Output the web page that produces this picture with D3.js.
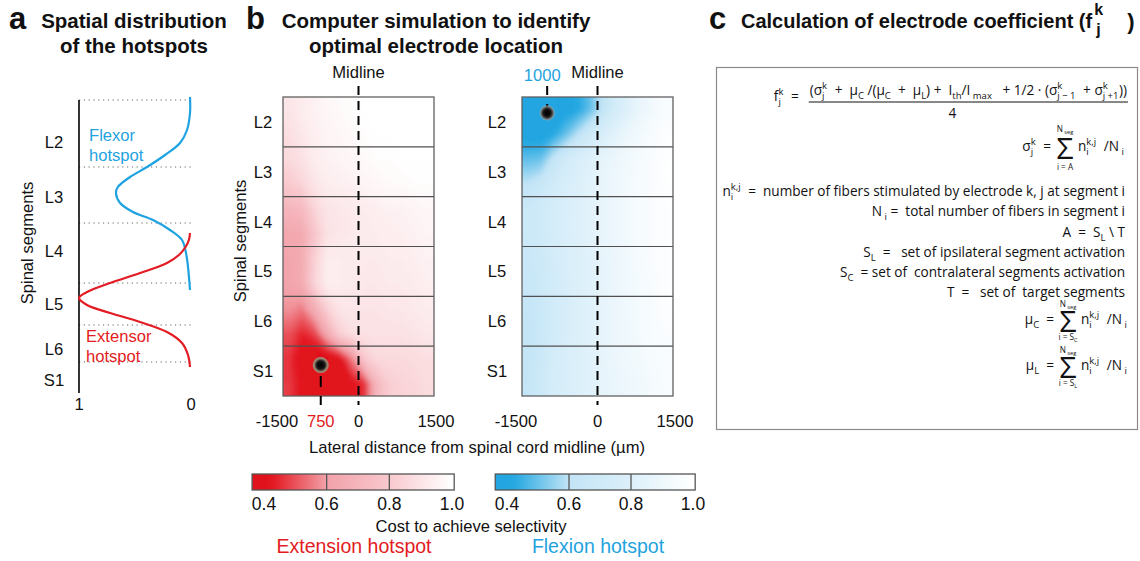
<!DOCTYPE html>
<html><head><meta charset="utf-8">
<script src="https://cdn.jsdelivr.net/npm/d3@7"></script>
<style>body{margin:0;background:#fff}svg{display:block}</style>
</head><body>
<svg id="chart" width="1140" height="561" xmlns="http://www.w3.org/2000/svg"></svg>
<script>
// ================= DATA =================
const segments = ["L2", "L3", "L4", "L5", "L6", "S1"];

// Panel a: positions along the cord (a.u., 0 = top of L2) and normalized density (1 .. 0)
const segBoundsA = [0, 67, 123, 183, 225, 262, 293];
const segLabelPosA = [42, 97, 151, 204, 249, 280];
const densityTicks = [1, 0];
const flexorPos = [-3, 13, 30, 43, 55, 67, 77, 87, 93, 103, 112, 120, 130, 140, 153, 167, 190];
const flexorVal = [0, 0, 0.027, 0.09, 0.225, 0.387, 0.54, 0.65, 0.667, 0.63, 0.514, 0.333, 0.18, 0.072, 0.036, 0.018, 0];
const extensorPos = [133, 140, 147, 155, 163, 173, 183, 192, 198, 205, 213, 222, 232, 243, 255, 267];
const extensorVal = [0, 0.01, 0.04, 0.1, 0.207, 0.45, 0.72, 0.928, 1.0, 0.928, 0.72, 0.45, 0.207, 0.072, 0.018, 0];

// Panel b: cost maps, columns = lateral position (µm, cell centres), rows = half-segment steps (L2 top -> S1 bottom)
const lateralCenters = [-1375, -1125, -875, -625, -375, -125, 125, 375, 625, 875, 1125, 1375];
const rowCenters = [0.25, 0.75, 1.25, 1.75, 2.25, 2.75, 3.25, 3.75, 4.25, 4.75, 5.25, 5.75];
const extensionCost = [
  [0.90, 0.93, 0.95, 0.97, 0.98, 0.99, 1.00, 1.00, 1.00, 1.00, 1.00, 1.00],
  [0.88, 0.91, 0.94, 0.96, 0.97, 0.98, 0.99, 1.00, 1.00, 1.00, 1.00, 1.00],
  [0.86, 0.89, 0.93, 0.95, 0.96, 0.97, 0.98, 0.99, 0.99, 1.00, 1.00, 1.00],
  [0.80, 0.84, 0.90, 0.93, 0.94, 0.95, 0.96, 0.97, 0.98, 0.98, 0.99, 0.99],
  [0.70, 0.72, 0.84, 0.90, 0.91, 0.92, 0.93, 0.94, 0.95, 0.95, 0.96, 0.97],
  [0.63, 0.64, 0.78, 0.89, 0.91, 0.92, 0.92, 0.93, 0.93, 0.94, 0.95, 0.96],
  [0.62, 0.65, 0.83, 0.93, 0.93, 0.92, 0.92, 0.92, 0.93, 0.93, 0.94, 0.95],
  [0.61, 0.65, 0.84, 0.93, 0.93, 0.92, 0.91, 0.91, 0.92, 0.92, 0.93, 0.94],
  [0.58, 0.55, 0.66, 0.83, 0.90, 0.91, 0.90, 0.90, 0.91, 0.91, 0.92, 0.93],
  [0.50, 0.44, 0.48, 0.64, 0.82, 0.88, 0.89, 0.89, 0.89, 0.89, 0.90, 0.91],
  [0.46, 0.38, 0.365, 0.37, 0.40, 0.56, 0.80, 0.86, 0.86, 0.86, 0.87, 0.88],
  [0.47, 0.41, 0.39, 0.385, 0.39, 0.41, 0.46, 0.72, 0.82, 0.84, 0.85, 0.87]
];
const flexionCost = [
  [0.37, 0.36, 0.37, 0.39, 0.42, 0.50, 0.62, 0.74, 0.82, 0.88, 0.93, 0.96],
  [0.38, 0.38, 0.42, 0.50, 0.60, 0.70, 0.78, 0.84, 0.89, 0.93, 0.96, 0.98],
  [0.49, 0.50, 0.62, 0.71, 0.77, 0.82, 0.86, 0.89, 0.92, 0.95, 0.97, 0.99],
  [0.60, 0.64, 0.71, 0.76, 0.80, 0.84, 0.87, 0.90, 0.93, 0.95, 0.97, 0.99],
  [0.67, 0.70, 0.74, 0.78, 0.81, 0.84, 0.87, 0.90, 0.93, 0.95, 0.97, 0.98],
  [0.67, 0.70, 0.74, 0.78, 0.81, 0.84, 0.87, 0.90, 0.93, 0.95, 0.97, 0.98],
  [0.65, 0.68, 0.73, 0.77, 0.80, 0.83, 0.86, 0.89, 0.92, 0.95, 0.97, 0.98],
  [0.64, 0.67, 0.72, 0.76, 0.80, 0.83, 0.86, 0.89, 0.92, 0.94, 0.96, 0.98],
  [0.62, 0.66, 0.72, 0.76, 0.80, 0.83, 0.86, 0.89, 0.92, 0.94, 0.96, 0.98],
  [0.61, 0.66, 0.72, 0.76, 0.80, 0.83, 0.86, 0.89, 0.91, 0.94, 0.96, 0.97],
  [0.61, 0.67, 0.73, 0.77, 0.80, 0.83, 0.86, 0.89, 0.91, 0.93, 0.95, 0.96],
  [0.62, 0.68, 0.74, 0.77, 0.80, 0.83, 0.86, 0.88, 0.90, 0.92, 0.94, 0.96]
];
const lateralTicks = [-1500, 0, 1500];
const extensorElectrode = [-750, 5.38];   // [µm, segment position]
const flexorElectrode = [-1000, 0.32];
const costTicks = [0.4, 0.6, 0.8, 1.0];
const costBarExtent = [0.362, 1.007];
const redStops = [0.4, 0.43, 0.6, 0.8, 1.0];
const redColors = ["#E0121C", "#E31A23", "#F2A1A9", "#F8C9CE", "#FFFFFF"];
const blueStops = [0.4, 0.43, 0.6, 0.8, 1.0];
const blueColors = ["#22A5E0", "#2BAAE2", "#C2E4F6", "#DCF0FA", "#FFFFFF"];

// ================= DRAWING =================
const svg = d3.select("#chart");
const defs = svg.append("defs");
const FONT = "'Liberation Sans', Arial, Helvetica, sans-serif";
const MATH = "'Open Sans', 'Noto Sans', 'DejaVu Sans', sans-serif";
const RED = "#E31B23", BLUE = "#1FA3E0", INK = "#111";
const LAB = 16.6;

function txt(parent, x, y, s, size, opts = {}) {
  return parent.append("text").attr("x", x).attr("y", y).text(s)
    .attr("font-family", opts.family || FONT).attr("font-size", size)
    .attr("font-weight", opts.bold ? "bold" : null)
    .attr("text-anchor", opts.anchor || "start").attr("fill", opts.fill || INK);
}

// ---------- Titles ----------
txt(svg, 9, 29, "a", 31, {bold: true});
txt(svg, 134, 28, "Spatial distribution", 20.5, {bold: true, anchor: "middle"});
txt(svg, 134, 53, "of the hotspots", 20.5, {bold: true, anchor: "middle"});
txt(svg, 246, 29, "b", 31, {bold: true});
txt(svg, 436, 28, "Computer simulation to identify", 20.5, {bold: true, anchor: "middle"});
txt(svg, 436, 53, "optimal electrode location", 20.5, {bold: true, anchor: "middle"});
txt(svg, 709, 29, "c", 31, {bold: true});
{
  const t = txt(svg, 741, 28, "Calculation of electrode coefficient (f", 20, {bold: true});
  const end = 741 + t.node().getComputedTextLength();
  txt(svg, end + 2, 15, "k", 16, {bold: true});
  txt(svg, end + 4, 35, "j", 16, {bold: true});
  txt(svg, end + 35, 29, ")", 22, {bold: true});
}

// ---------- Panel a ----------
const ax = d3.scaleLinear().domain([1, 0]).range([79, 190]);
const ay = d3.scaleLinear().domain([0, 293]).range([100, 393]);
const gA = svg.append("g");
gA.selectAll("line.seg").data(segBoundsA.slice(0, -1)).join("line")
  .attr("x1", ax(1)).attr("x2", ax(0) + 1).attr("y1", d => ay(d)).attr("y2", d => ay(d))
  .attr("stroke", "#666").attr("stroke-width", 1.1).attr("stroke-dasharray", "1.2,3.6");
gA.append("line").attr("x1", ax(1)).attr("x2", ax(1)).attr("y1", ay(0)).attr("y2", ay(293))
  .attr("stroke", "#000").attr("stroke-width", 1.6);
gA.selectAll("text.seg").data(segments).join("text")
  .attr("x", 54).attr("y", (d, i) => ay(segLabelPosA[i]) + 6).attr("text-anchor", "middle")
  .attr("font-family", FONT).attr("font-size", LAB).attr("fill", INK).text(d => d);
gA.selectAll("text.tick").data(densityTicks).join("text")
  .attr("x", d => ax(d) + (d === 0 ? 1 : 0)).attr("y", 410).attr("text-anchor", "middle")
  .attr("font-family", FONT).attr("font-size", LAB).attr("fill", INK).text(d => d);
txt(gA, 0, 0, "Spinal segments", LAB, {anchor: "middle"}).attr("transform", "translate(33,243) rotate(-90)");
const lineA = d3.line().x(d => ax(d[1])).y(d => ay(d[0])).curve(d3.curveCatmullRom.alpha(0.5));
gA.append("path").attr("d", lineA(d3.zip(flexorPos, flexorVal))).attr("fill", "none")
  .attr("stroke", BLUE).attr("stroke-width", 2.2);
gA.append("path").attr("d", lineA(d3.zip(extensorPos, extensorVal))).attr("fill", "none")
  .attr("stroke", RED).attr("stroke-width", 2.2);
txt(gA, 89, 141, "Flexor", LAB, {fill: BLUE});
txt(gA, 89, 161, "hotspot", LAB, {fill: BLUE});
txt(gA, 86, 342, "Extensor", LAB, {fill: RED});
txt(gA, 86, 362, "hotspot", LAB, {fill: RED});

// ---------- Panel b ----------
const by = d3.scaleLinear().domain([0, 6]).range([97, 396]);
const redMap = d3.scaleLinear().domain(redStops).range(redColors).clamp(true);
const blueMap = d3.scaleLinear().domain(blueStops).range(blueColors).clamp(true);

const blur = defs.append("filter").attr("id", "soft").attr("x", "-5%").attr("y", "-5%")
  .attr("width", "110%").attr("height", "110%");
blur.append("feGaussianBlur").attr("stdDeviation", 2.2);

function electrodeGradient(id, stops) {
  const g = defs.append("radialGradient").attr("id", id);
  stops.forEach(s => g.append("stop").attr("offset", s[0]).attr("stop-color", s[1]).attr("stop-opacity", s[2] == null ? 1 : s[2]));
}
electrodeGradient("elR", [["0%", "#000"], ["45%", "#111"], ["62%", "#3a3430"], ["78%", "#8f7a66"], ["100%", "#a79179"]]);
electrodeGradient("elB", [["0%", "#000"], ["45%", "#111"], ["70%", "#555"], ["88%", "#999", 0.7], ["100%", "#bbb", 0]]);

function drawMap(id, xS, grid, cmap, electrode, color, tickAbove, labelGap) {
  const g = svg.append("g");
  const x0 = xS(-1500), x1 = xS(1500);
  defs.append("clipPath").attr("id", "clip" + id).append("rect")
    .attr("x", x0).attr("y", by(0)).attr("width", x1 - x0).attr("height", by(6) - by(0));
  // pad the grid by repeating its border cells so the blur has no edge fall-off
  const rows = [grid[0], ...grid, grid[grid.length - 1]].map(r => [r[0], ...r, r[r.length - 1]]);
  const n = rows[0].length, m = rows.length;
  const dxu = lateralCenters[1] - lateralCenters[0];
  const dyu = rowCenters[1] - rowCenters[0];
  const u0 = lateralCenters[0] - 1.5 * dxu, v0 = rowCenters[0] - 1.5 * dyu;
  const proj = d3.geoTransform({point(x, y) { this.stream.point(xS(u0 + x * dxu), by(v0 + y * dyu)); }});
  const path = d3.geoPath(proj);
  const thresholds = d3.range(0.30, 1.0051, 0.01);
  const cs = d3.contours().size([n, m]).thresholds(thresholds)(rows.flat());
  const inner = g.append("g").attr("clip-path", `url(#clip${id})`).append("g").attr("filter", "url(#soft)");
  inner.selectAll("path").data(cs).join("path").attr("d", path)
    .attr("fill", d => cmap(d.value + 0.005)).attr("stroke", d => cmap(d.value + 0.005)).attr("stroke-width", 0.6);
  // segment separators and frame
  g.selectAll("line.row").data(d3.range(1, 6)).join("line")
    .attr("x1", x0).attr("x2", x1).attr("y1", d => by(d)).attr("y2", d => by(d))
    .attr("stroke", "#505050").attr("stroke-width", 1.2);
  g.append("rect").attr("x", x0).attr("y", by(0)).attr("width", x1 - x0).attr("height", by(6) - by(0))
    .attr("fill", "none").attr("stroke", "#606060").attr("stroke-width", 1.3);
  // midline
  g.append("line").attr("x1", xS(0)).attr("x2", xS(0)).attr("y1", by(0) - 11).attr("y2", by(6) + 9)
    .attr("stroke", "#000").attr("stroke-width", 2).attr("stroke-dasharray", "9,6");
  txt(g, xS(0), 78, "Midline", LAB, {anchor: "middle"});
  // electrode tick and label
  const ex = xS(electrode[0]), ey = by(electrode[1]);
  if (tickAbove) {
    g.append("line").attr("x1", ex).attr("x2", ex).attr("y1", by(0) - 11).attr("y2", ey)
      .attr("stroke", "#000").attr("stroke-width", 2).attr("stroke-dasharray", "9,9");
    txt(g, ex - 5, 81, String(-electrode[0]), LAB, {anchor: "middle", fill: color});
  } else {
    g.append("line").attr("x1", ex).attr("x2", ex).attr("y1", ey).attr("y2", by(6) + 9)
      .attr("stroke", "#000").attr("stroke-width", 2).attr("stroke-dasharray", "0,11,11,9,9");
    txt(g, ex, 427, String(-electrode[0]), LAB, {anchor: "middle", fill: color});
  }
  g.append("circle").attr("cx", ex).attr("cy", ey).attr("r", 8).attr("fill", `url(#el${id})`);
  // lateral ticks
  g.selectAll("text.lat").data(lateralTicks).join("text")
    .attr("x", d => xS(d) + (d < 0 ? -6 : d > 0 ? 2 : 0)).attr("y", 427).attr("text-anchor", "middle")
    .attr("font-family", FONT).attr("font-size", LAB).attr("fill", INK).text(d => d);
  // segment labels
  g.selectAll("text.seg").data(segments).join("text")
    .attr("x", x0 - labelGap).attr("y", (d, i) => by(i + 0.5) + 6).attr("text-anchor", "middle")
    .attr("font-family", FONT).attr("font-size", LAB).attr("fill", INK).text(d => d);
}
const bx1 = d3.scaleLinear().domain([-1500, 1500]).range([283, 434]);
const bx2 = d3.scaleLinear().domain([-1500, 1500]).range([522, 673]);
drawMap("R", bx1, extensionCost, redMap, extensorElectrode, RED, false, 20);
drawMap("B", bx2, flexionCost, blueMap, flexorElectrode, BLUE, true, 25);
txt(svg, 0, 0, "Spinal segments", LAB, {anchor: "middle"}).attr("transform", "translate(246,241) rotate(-90)");
txt(svg, 477, 453, "Lateral distance from spinal cord midline (\u00b5m)", LAB, {anchor: "middle"});

// ---------- colour bars ----------
function colorBar(id, scaleX, cmap, stops) {
  const xa = scaleX(costBarExtent[0]), xb = scaleX(costBarExtent[1]);
  const grad = defs.append("linearGradient").attr("id", "cb" + id).attr("x1", 0).attr("x2", 1).attr("y1", 0).attr("y2", 0);
  const vals = [costBarExtent[0], ...stops, costBarExtent[1]];
  vals.forEach(v => grad.append("stop")
    .attr("offset", (v - costBarExtent[0]) / (costBarExtent[1] - costBarExtent[0]))
    .attr("stop-color", cmap(v)));
  const g = svg.append("g");
  g.append("rect").attr("x", xa).attr("y", 474).attr("width", xb - xa).attr("height", 16)
    .attr("fill", `url(#cb${id})`).attr("stroke", "#555").attr("stroke-width", 1.3);
  g.selectAll("line").data(costTicks.slice(1, -1)).join("line")
    .attr("x1", d => scaleX(d)).attr("x2", d => scaleX(d)).attr("y1", 474).attr("y2", 490)
    .attr("stroke", "#555").attr("stroke-width", 1.3);
  g.selectAll("text").data(costTicks).join("text")
    .attr("x", d => scaleX(d)).attr("y", 510).attr("text-anchor", "middle")
    .attr("font-family", FONT).attr("font-size", 17.5).attr("fill", INK).text(d => d.toFixed(1));
}
const cbx1 = d3.scaleLinear().domain([0.4, 1.0]).range([264, 452]);
const cbx2 = d3.scaleLinear().domain([0.4, 1.0]).range([507, 693]);
colorBar("R", cbx1, redMap, redStops);
colorBar("B", cbx2, blueMap, blueStops);
txt(svg, 471, 532, "Cost to achieve selectivity", 16.6, {anchor: "middle"});
txt(svg, 354, 553, "Extension hotspot", 19.5, {anchor: "middle", fill: RED});
txt(svg, 598, 553, "Flexion hotspot", 19.5, {anchor: "middle", fill: BLUE});

// ---------- Panel c ----------
svg.append("rect").attr("x", 716.5).attr("y", 67.5).attr("width", 421).attr("height", 362)
  .attr("fill", "none").attr("stroke", "#8a8a8a").attr("stroke-width", 1.2);

function rich(parent, x, y, parts, size, anchor) {
  const t = parent.append("text").attr("x", x).attr("y", y).attr("font-family", MATH)
    .attr("font-size", size).attr("text-anchor", anchor || "start").attr("fill", INK)
    .attr("xml:space", "preserve").style("white-space", "pre");
  const small = size * 0.7, up = size * 0.42, down = size * 0.28;
  let cur = 0, pend = 0;
  const add = (s, off, fs) => {
    const sp = t.append("tspan").attr("dy", off - cur).text(s);
    if (pend) { sp.attr("dx", pend); pend = 0; }
    if (fs) sp.attr("font-size", fs);
    cur = off; return sp;
  };
  parts.forEach(p => {
    if (typeof p === "string") add(p, 0);
    else if (p.sup != null && p.sub != null) {
      const a = add(p.sup, -up, small); const w1 = a.node().getComputedTextLength();
      pend = -w1; const b = add(p.sub, down, small); const w2 = b.node().getComputedTextLength();
      pend = Math.max(0, w1 - w2) + 0.5;
    } else if (p.sup != null) add(p.sup, -up, small);
    else add(p.sub, down, small);
  });
  if (cur) t.append("tspan").attr("dy", -cur).text("");
  return t;
}
const gC = svg.append("g");
const FS = 13.6, LIM = 8.2;
// main formula
const num = rich(gC, 1127, 95, ["(\u03c3", {sup: "k", sub: "j"}, "  +  \u03bc", {sub: "C"}, " /(\u03bc", {sub: "C"},
  "  +  \u03bc", {sub: "L"}, ") +  I", {sub: "th"}, "/I", {sub: " max"}, "   + 1/2 \u00b7 (\u03c3", {sup: "k", sub: "j \u2212 1"},
  "  + \u03c3", {sup: "k", sub: "j +1"}, "))"], FS, "end");
const nb = num.node().getBBox();
gC.append("line").attr("x1", nb.x - 1).attr("x2", nb.x + nb.width + 1).attr("y1", 102).attr("y2", 102)
  .attr("stroke", INK).attr("stroke-width", 1);
rich(gC, nb.x + nb.width / 2 - 16, 118, ["4"], FS, "middle");
rich(gC, nb.x - 11, 101, ["f", {sup: "k", sub: "j"}, "  ="], FS, "end");

function sumLine(y, sx, lhs, lower, up, dn) {
  rich(gC, sx - 14, y, lhs, FS, "end");
  gC.append("text").attr("x", sx).attr("y", y + 8).attr("text-anchor", "middle").attr("font-family", MATH)
    .attr("font-size", 30).attr("fill", INK).text("\u03a3");
  rich(gC, sx, y - up, ["N", {sub: " seg"}], LIM, "middle");
  rich(gC, sx, y + dn, lower, LIM, "middle");
  rich(gC, sx + 13, y, ["n", {sup: "k,j", sub: "i"}, "  /N", {sub: " i"}], FS, "start");
}
sumLine(151, 1065, ["\u03c3", {sup: "k", sub: "j"}, "  ="], ["i = A"], 19, 19);
rich(gC, 1125, 196, ["n", {sup: "k,j", sub: "i"}, "  =  number of fibers stimulated by electrode k, j at segment i"], FS, "end");
rich(gC, 1125, 216, ["N", {sub: " i"}, " =  total number of fibers in segment i"], FS, "end");
rich(gC, 1125, 237, ["A  =  S", {sub: "L"}, " \\ T"], FS, "end");
rich(gC, 1125, 257, ["S", {sub: "L"}, "  =   set of ipsilateral segment activation"], FS, "end");
rich(gC, 1125, 277, ["S", {sub: "C"}, "  = set of  contralateral segments activation"], FS, "end");
rich(gC, 1125, 297, ["T  =   set of  target segments"], FS, "end");
sumLine(324, 1068, ["\u03bc", {sub: "C"}, "  ="], ["i = S", {sub: "C"}], 17, 16);
sumLine(370, 1068, ["\u03bc", {sub: "L"}, "  ="], ["i = S", {sub: "L"}], 17, 16);
</script>
</body></html>
